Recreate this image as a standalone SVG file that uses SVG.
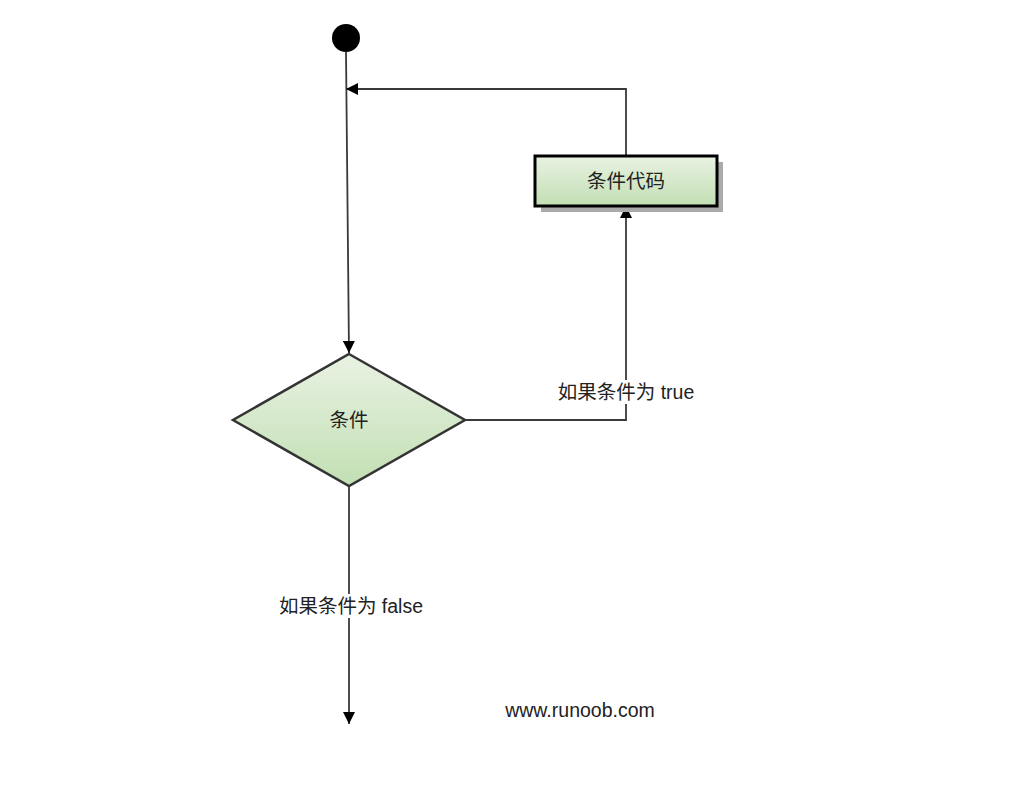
<svg xmlns="http://www.w3.org/2000/svg" width="1019" height="803" viewBox="0 0 1019 803">
<style>
.line{fill:none;stroke:#3a3a3a;stroke-width:1.8}
.lbl{font-family:"Liberation Sans","Noto Sans CJK SC",sans-serif;font-size:19.5px;fill:#222;text-anchor:middle;dominant-baseline:central}
</style>
<defs>
<linearGradient id="g" x1="0" y1="0" x2="0" y2="1">
<stop offset="0" stop-color="#e9f2e3"/>
<stop offset="1" stop-color="#c2dfb3"/>
</linearGradient>
<marker id="arr" viewBox="0 0 12 12" refX="12" refY="6" markerWidth="12" markerHeight="12" markerUnits="userSpaceOnUse" orient="auto">
<path d="M0,0 L12,6 L0,12 z" fill="#000"/>
</marker>
</defs>
<rect width="1019" height="803" fill="#fff"/>
<g id="connectors">
<path class="line" d="M346,52 L349,353" marker-end="url(#arr)"/>
<path class="line" d="M626,156 L626,89 L346,89" marker-end="url(#arr)"/>
<path class="line" d="M465,420 L626,420 L626,206" marker-end="url(#arr)"/>
<path class="line" d="M349,486 L349,724" marker-end="url(#arr)"/>
</g>
<g id="start">
<circle cx="346" cy="38" r="14" fill="#000"/>
</g>
<g id="code">
<rect x="541" y="162" width="182" height="50" fill="#aaa"/>
<rect x="535" y="156" width="182" height="50" fill="url(#g)" stroke="#000" stroke-width="3"/>
<text class="lbl" x="626" y="181">条件代码</text>
</g>
<g id="cond">
<polygon points="349,354 465,420 349,486 233,420" fill="url(#g)" stroke="#333" stroke-width="2.5"/>
<text class="lbl" x="349" y="420">条件</text>
</g>
<g id="label-true">
<rect x="555" y="380" width="142" height="24" fill="#fff"/>
<text class="lbl" x="626" y="392">如果条件为 true</text>
</g>
<g id="label-false">
<rect x="275" y="594" width="152" height="24" fill="#fff"/>
<text class="lbl" x="351" y="606">如果条件为 false</text>
</g>
<g id="watermark">
<text class="lbl" x="580" y="710">www.runoob.com</text>
</g>
</svg>
